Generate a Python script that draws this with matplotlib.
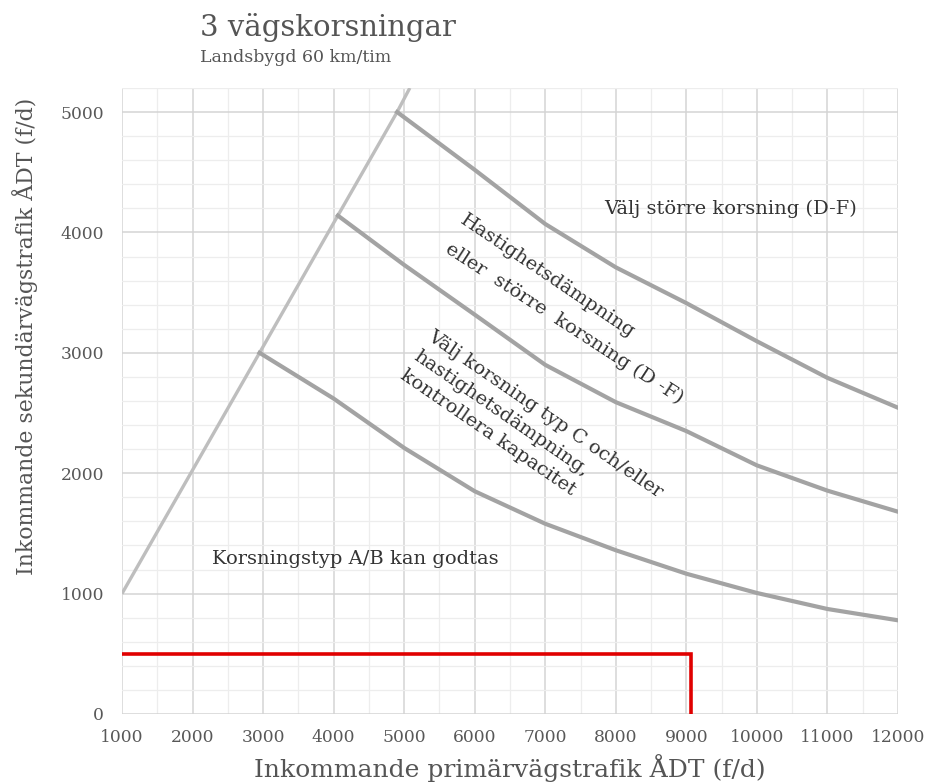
import matplotlib
matplotlib.use("Agg")
import matplotlib.pyplot as plt
from matplotlib.ticker import MultipleLocator

# data
diag_x = [1000, 2950, 4060, 4900, 5080]
diag_y = [1000, 3000, 4140, 5000, 5200]

lower_x = [2950, 4000, 5000, 6000, 7000, 8000, 9000, 10000, 11000, 12000]
lower_y = [3000, 2620, 2210, 1850, 1580, 1360, 1165, 1005, 872, 778]

middle_x = [4060, 5000, 6000, 7000, 8000, 9000, 10000, 11000, 12000]
middle_y = [4140, 3730, 3317, 2900, 2590, 2350, 2065, 1855, 1680]

upper_x = [4900, 6000, 7000, 8000, 9000, 10000, 11000, 12000]
upper_y = [5000, 4520, 4070, 3710, 3413, 3096, 2792, 2544]

red_x = [1000, 9060, 9060]
red_y = [500, 500, 0]

serif = "DejaVu Serif"

fig = plt.figure(figsize=(9.27, 7.82), dpi=100)
ax = fig.add_axes([0.1316, 0.087, 0.8371, 0.8005])

ax.set_xlim(1000, 12000)
ax.set_ylim(0, 5200)
ax.xaxis.set_major_locator(MultipleLocator(1000))
ax.xaxis.set_minor_locator(MultipleLocator(500))
ax.yaxis.set_major_locator(MultipleLocator(1000))
ax.yaxis.set_minor_locator(MultipleLocator(200))
ax.grid(which="major", color="#d4d4d4", lw=1.1)
ax.grid(which="minor", color="#ededed", lw=0.9)
ax.set_axisbelow(True)
for s in ax.spines.values():
    s.set_visible(False)
ax.tick_params(which="both", length=0, colors="#585858", labelsize=12.3)
ax.tick_params(axis="y", pad=13)
ax.tick_params(axis="x", pad=11)
for lab in ax.get_xticklabels() + ax.get_yticklabels():
    lab.set_family(serif)

ax.plot(diag_x, diag_y, color="#bebebe", lw=2.4, solid_capstyle="butt")
ax.plot(lower_x, lower_y, color="#a3a3a3", lw=3.0)
ax.plot(middle_x, middle_y, color="#a3a3a3", lw=3.0)
ax.plot(upper_x, upper_y, color="#a3a3a3", lw=3.0)
ax.plot(red_x, red_y, color="#e00000", lw=2.6, solid_joinstyle="miter")

txt = dict(family=serif, color="#333333", fontsize=14)
ax.text(9633, 4197, "Välj större korsning (D-F)", ha="center", va="center", **txt)
ax.text(4303, 1291, "Korsningstyp A/B kan godtas", ha="center", va="center", **txt)
ax.text(7039, 3634, "Hastighetsdämpning",
        ha="center", va="center", rotation=-34, rotation_mode="anchor", **txt)
ax.text(7266, 3245, "eller  större  korsning (D -F)",
        ha="center", va="center", rotation=-33, rotation_mode="anchor", **txt)
ax.text(6800, 2326, "Välj korsning typ C och/eller\nhastighetsdämpning,\nkontrollera kapacitet",
        ha="center", va="center", rotation=-34.5, rotation_mode="anchor",
        multialignment="left", linespacing=1.42, **txt)

ax.set_xlabel("Inkommande primärvägstrafik ÅDT (f/d)", family=serif,
              fontsize=18, color="#555555", va="center")
ax.xaxis.set_label_coords(0.5, -0.086)
ax.set_ylabel("Inkommande sekundärvägstrafik ÅDT (f/d)", family=serif,
              fontsize=15.8, color="#555555", va="center")
ax.yaxis.set_label_coords(-0.125, 0.6025)

fig.text(200 / 927, 1 - 28 / 782, "3 vägskorsningar", family=serif,
         fontsize=21, color="#555555", va="center", ha="left")
fig.text(200 / 927, 1 - 58 / 782, "Landsbygd 60 km/tim", family=serif,
         fontsize=12.5, color="#555555", va="center", ha="left")

fig.savefig("out.png", dpi=100)
